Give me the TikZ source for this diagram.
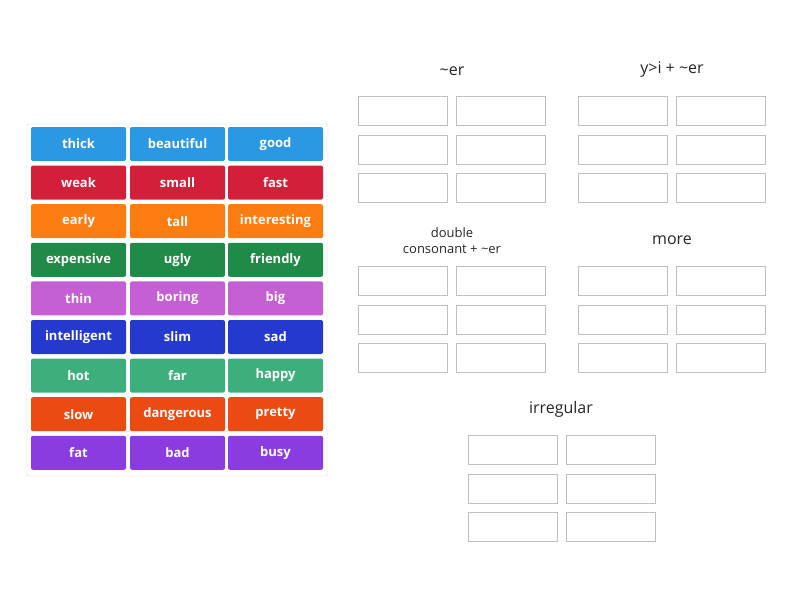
\documentclass[tikz,border=0pt]{standalone}
\usepackage{fontspec}
\setmainfont{Open Sans}
\usetikzlibrary{calc}
\definecolor{cBlue}{HTML}{2B98E3}
\definecolor{cRed}{HTML}{D41F3A}
\definecolor{cOrange}{HTML}{FB7D12}
\definecolor{cGreen}{HTML}{208A48}
\definecolor{cPink}{HTML}{C45FD4}
\definecolor{cNavy}{HTML}{2639CF}
\definecolor{cMint}{HTML}{3DAF7D}
\definecolor{cRust}{HTML}{EB4A12}
\definecolor{cPurple}{HTML}{8B3CE0}
\tikzset{
  tile/.style={fill=#1, rounded corners=2pt, minimum width=95pt, minimum height=34pt,
    inner sep=0pt, text=white, font=\bfseries\fontsize{13}{15}\selectfont},
  slot/.style={draw=black!25, fill=white, minimum width=89pt, minimum height=29pt, inner sep=0pt},
  title/.style={font=\fontsize{16}{18}\selectfont, text=black!85},
}
\begin{document}
\begin{tikzpicture}[x=1pt,y=-1pt]
\useasboundingbox (0,0) rectangle (800,600);
\draw[black!20, rounded corners=1pt] (27,124) rectangle (327,476);
% word tiles
\foreach \r/\col/\a/\b/\c in {0/cBlue/thick/beautiful/good, 1/cRed/weak/small/fast,
  2/cOrange/early/tall/interesting, 3/cGreen/expensive/ugly/friendly,
  4/cPink/thin/boring/big, 5/cNavy/intelligent/slim/sad, 6/cMint/hot/far/happy,
  7/cRust/slow/dangerous/pretty, 8/cPurple/fat/bad/busy} {
  \node[tile=\col] (t\r-1) at (78.5,144+38.6*\r) {\a};
  \node[tile=\col] (t\r-2) at (177.5,144+38.6*\r) {\b};
  \node[tile=\col] (t\r-3) at (275.5,144+38.6*\r) {\c};
}
% groups
\node[title] (er) at (452,71) {\textasciitilde er};
\node[title] (yi) at (672,70) {y>i + \textasciitilde er};
\node[align=center, font=\fontsize{13}{16}\selectfont, text=black!85] (dbl) at (452,241) {double\\consonant + \textasciitilde er};
\node[title] (more) at (672,240) {more};
\node[title] (irr) at (561,409) {irregular};
\foreach \n/\x/\y in {er/402.5/110.5, yi/622.5/110.5, dbl/402.5/280.5, more/622.5/280.5, irr/512.5/449.5} {
  \foreach \i in {0,1,2} {
    \node[slot] (\n-\i-1) at (\x,\y+38.8*\i) {};
    \node[slot] (\n-\i-2) at (\x+98,\y+38.8*\i) {};
  }
}
\end{tikzpicture}
\end{document}
